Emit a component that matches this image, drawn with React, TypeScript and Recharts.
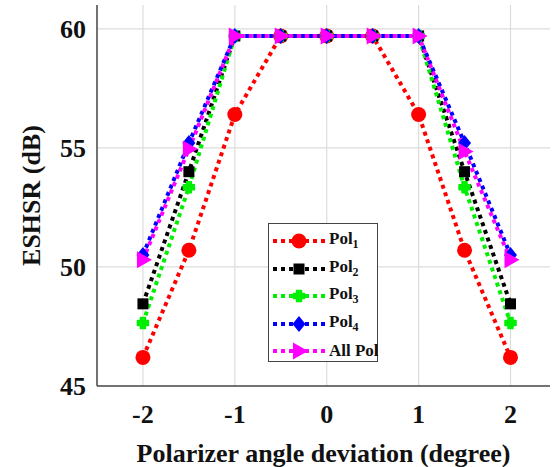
import React from 'react';
import { LineChart, Line, XAxis, YAxis, CartesianGrid } from 'recharts';

const angles = [-2, -1.5, -1, -0.5, 0, 0.5, 1, 1.5, 2];
const pol1 = [46.2, 50.7, 56.4, 59.7, 59.7, 59.7, 56.4, 50.7, 46.2];
const pol2 = [48.45, 54.0, 59.7, 59.7, 59.7, 59.7, 59.7, 54.0, 48.45];
const pol3 = [47.65, 53.35, 59.7, 59.7, 59.7, 59.7, 59.7, 53.35, 47.65];
const pol4 = [50.5, 55.2, 59.7, 59.7, 59.7, 59.7, 59.7, 55.2, 50.5];
const allPol = [50.3, 54.95, 59.7, 59.7, 59.7, 59.7, 59.7, 54.85, 50.3];

const xTicks = [-2, -1, 0, 1, 2];
const yTicks = [45, 50, 55, 60];

const data = angles.map((a, i) => ({
  angle: a,
  pol1: pol1[i],
  pol2: pol2[i],
  pol3: pol3[i],
  pol4: pol4[i],
  allPol: allPol[i],
}));

const FONT = '"Liberation Serif", "Times New Roman", serif';
const AXIS = '#444';
const X_DOMAIN = [-2.5, 2.43];

type Shape = 'circle' | 'square' | 'plus' | 'diamond' | 'triangle';

function marker(shape: Shape, color: string, cx: number, cy: number, key?: string) {
  switch (shape) {
    case 'circle':
      return <circle key={key} cx={cx} cy={cy} r={7.5} fill={color} />;
    case 'square':
      return <rect key={key} x={cx - 5.5} y={cy - 5.5} width={11} height={11} fill={color} />;
    case 'plus':
      return (
        <path
          key={key}
          d={`M${cx - 2.5},${cy - 5.5}h5v3h3v5h-3v3h-5v-3h-3v-5h3z`}
          fill={color}
          stroke={color}
          strokeWidth={1.5}
          strokeLinejoin="round"
        />
      );
    case 'diamond':
      return <path key={key} d={`M${cx},${cy - 8}L${cx + 6.5},${cy}L${cx},${cy + 8}L${cx - 6.5},${cy}Z`} fill={color} />;
    case 'triangle':
      return <path key={key} d={`M${cx - 6},${cy - 8.5}L${cx + 9},${cy}L${cx - 6},${cy + 8.5}Z`} fill={color} />;
  }
}

const series: { key: string; name: string; sub?: string; color: string; shape: Shape }[] = [
  { key: 'pol1', name: 'Pol', sub: '1', color: '#ff0000', shape: 'circle' },
  { key: 'pol2', name: 'Pol', sub: '2', color: '#000000', shape: 'square' },
  { key: 'pol3', name: 'Pol', sub: '3', color: '#00ee00', shape: 'plus' },
  { key: 'pol4', name: 'Pol', sub: '4', color: '#0000ff', shape: 'diamond' },
  { key: 'allPol', name: 'All Pol', color: '#ff00ff', shape: 'triangle' },
];

const tickStyle = { fill: '#111', fontSize: 26, fontWeight: 'bold', fontFamily: FONT };

function YLabel(props: any) {
  const vb = props.viewBox || { y: 5, height: 381 };
  const cx = 31;
  const cy = vb.y + vb.height / 2;
  return (
    <text
      x={cx}
      y={cy}
      transform={`rotate(-90 ${cx} ${cy})`}
      textAnchor="middle"
      dominantBaseline="central"
      fill="#111"
      fontSize={26}
      fontWeight="bold"
      fontFamily={FONT}
    >
      ESHSR (dB)
    </text>
  );
}

function Legendbox() {
  return (
    <div
      style={{
        position: 'absolute',
        left: 268,
        top: 223,
        width: 108,
        height: 137,
        border: '1.5px solid #444',
        background: '#fff',
        fontFamily: FONT,
        fontWeight: 'bold',
        fontSize: 17,
        color: '#111',
      }}
    >
      {series.map((s, i) => (
        <div
          key={s.key}
          style={{ position: 'absolute', left: 3, top: 4 + i * 27.5, height: 26, display: 'flex', alignItems: 'center' }}
        >
          <svg width={54} height={26}>
            <line x1={1} y1={13} x2={53} y2={13} stroke={s.color} strokeWidth={4} strokeDasharray="4 4" />
            {marker(s.shape, s.color, 27, 13)}
          </svg>
          <span style={{ marginLeft: 3, whiteSpace: 'nowrap' }}>
            {s.name}
            {s.sub && <sub style={{ fontSize: 12 }}>{s.sub}</sub>}
          </span>
        </div>
      ))}
    </div>
  );
}

export default function App() {
  return (
    <div style={{ position: 'absolute', left: 0, top: 0, width: 552, height: 467, background: '#fff' }}>
      <LineChart width={552} height={467} data={data} margin={{ top: 5, right: 2, left: 0, bottom: 0 }}>
        <CartesianGrid stroke="#dcdcdc" strokeWidth={1.2} horizontalValues={[50, 55, 60]} verticalValues={xTicks} />
        <XAxis
          dataKey="angle"
          type="number"
          domain={X_DOMAIN}
          ticks={xTicks}
          height={81}
          tickLine={false}
          tickSize={0}
          tickMargin={19}
          axisLine={{ stroke: AXIS, strokeWidth: 1.5 }}
          tick={tickStyle}
          label={{
            value: 'Polarizer angle deviation (degree)',
            position: 'insideBottom',
            offset: 5,
            style: { fill: '#111', fontSize: 26, fontWeight: 'bold', fontFamily: FONT },
          }}
        />
        <XAxis xAxisId="top" orientation="top" type="number" domain={X_DOMAIN} height={0} tick={false} tickLine={false} axisLine={{ stroke: AXIS, strokeWidth: 1.5 }} />
        <YAxis
          type="number"
          domain={[45, 61]}
          ticks={yTicks}
          width={97}
          tickLine={false}
          tickSize={0}
          tickMargin={11}
          axisLine={{ stroke: AXIS, strokeWidth: 1.5 }}
          tick={tickStyle}
          label={{ content: (p: any) => <YLabel {...p} /> }}
        />
        <YAxis yAxisId="right" orientation="right" type="number" domain={[45, 61]} width={0} tick={false} tickLine={false} axisLine={{ stroke: AXIS, strokeWidth: 1.5 }} />
        {series.map((s) => (
          <Line
            key={s.key}
            dataKey={s.key}
            type="linear"
            stroke={s.color}
            strokeWidth={4}
            strokeDasharray="4 4"
            isAnimationActive={false}
            dot={(p: any) => marker(s.shape, s.color, p.cx, p.cy, `${s.key}-${p.index}`)}
            activeDot={false}
          />
        ))}
      </LineChart>
      <Legendbox />
    </div>
  );
}
